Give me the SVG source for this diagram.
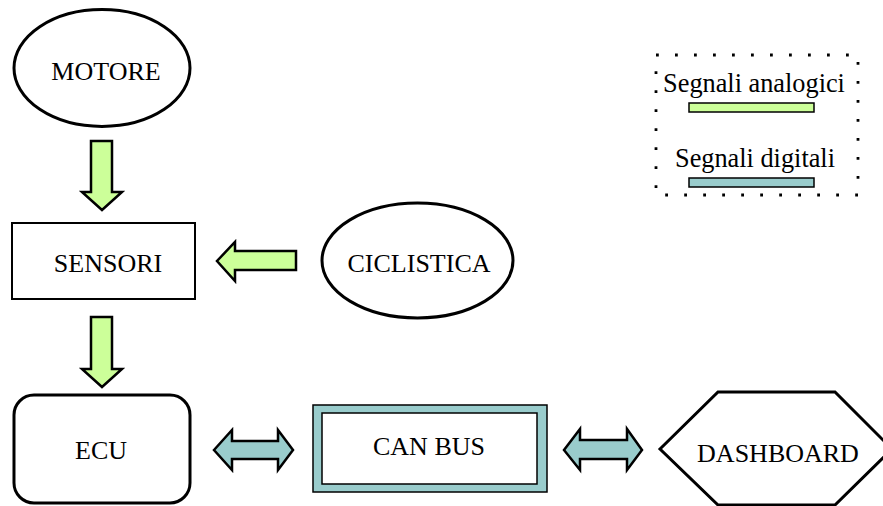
<svg xmlns="http://www.w3.org/2000/svg" width="883" height="506" viewBox="0 0 883 506">
<style>
  text { font-family: "Liberation Serif", "Times New Roman", serif; font-size: 26px; fill: #000; text-anchor: middle; }
  .node { fill: #fff; stroke: #000; stroke-width: 3; }
  .ana { fill: #CCFF99; stroke: #000; stroke-width: 2.5; stroke-linejoin: miter; }
  .dig { fill: #99CCCC; stroke: #000; stroke-width: 2.5; stroke-linejoin: miter; }
  .legend text { font-size: 26.3px; }
</style>
<rect width="883" height="506" fill="#fff"/>

<g id="legend" class="legend">
  <rect x="656" y="55" width="202" height="140" fill="none" stroke="#000" stroke-width="2.8" stroke-dasharray="2.8 16.2"/>
  <text x="754" y="92">Segnali analogici</text>
  <rect x="689" y="103" width="125" height="9" fill="#CCFF99" stroke="#000" stroke-width="1.5"/>
  <text x="755" y="167">Segnali digitali</text>
  <rect x="689" y="178" width="125" height="9" fill="#99CCCC" stroke="#000" stroke-width="1.5"/>
</g>

<g id="connectors">
  <polygon class="ana" points="91,141 112,141 112,192 122,192 102,210 82,192 91,192"/>
  <polygon class="ana" points="91,317 112,317 112,369 122,369 102,387 82,369 91,369"/>
  <polygon class="ana" points="296,251 296,270 235,270 235,281 217,261 235,242 235,251"/>
  <polygon class="dig" points="214,450 232,430 232,441 278,441 278,430 293,450 278,470 278,459 232,459 232,470"/>
  <polygon class="dig" points="564,450 580,429 580,440 627,440 627,429 642,450 627,470 627,459 580,459 580,470"/>
</g>

<g id="motore">
  <ellipse class="node" cx="102" cy="68" rx="88" ry="58.5"/>
  <text x="106" y="80">MOTORE</text>
</g>

<g id="sensori">
  <rect x="12" y="223" width="183" height="76" fill="#fff" stroke="#000" stroke-width="2"/>
  <text x="108" y="272">SENSORI</text>
</g>

<g id="ciclistica">
  <ellipse class="node" cx="417.5" cy="260.5" rx="95.5" ry="57.5"/>
  <text x="419" y="272">CICLISTICA</text>
</g>

<g id="ecu">
  <rect class="node" x="14" y="395" width="176" height="108" rx="20" ry="20"/>
  <text x="101" y="459">ECU</text>
</g>

<g id="canbus">
  <rect x="313" y="405" width="234" height="87" fill="#99CCCC" stroke="#000" stroke-width="1.5"/>
  <rect x="322" y="413" width="215" height="71" fill="#fff" stroke="#000" stroke-width="1.5"/>
  <text x="429" y="455">CAN BUS</text>
</g>

<g id="dashboard">
  <polygon class="node" points="660,449 718,392 835,392 892,449 835,505 718,505"/>
  <text x="778" y="462">DASHBOARD</text>
</g>
</svg>
